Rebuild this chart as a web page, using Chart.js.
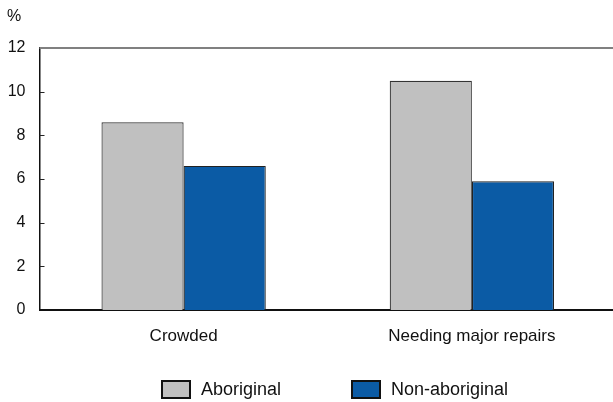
<!DOCTYPE html>
<html>
<head>
<meta charset="utf-8">
<script src="https://cdn.jsdelivr.net/npm/chart.js@4"></script>
<style>
  html, body { margin: 0; padding: 0; background: #fff; }
  #wrap { width: 613px; height: 402px; position: relative; overflow: hidden; }
</style>
</head>
<body>
<div id="wrap"><canvas id="c" width="617" height="402"></canvas></div>
<script>
// Housing conditions, percentage of households
const categories = ['Crowded', 'Needing major repairs'];
const aboriginal = [8.6, 10.5];
const nonAboriginal = [6.6, 5.9];
const seriesNames = ['Aboriginal', 'Non-aboriginal'];
const yTicks = [0, 2, 4, 6, 8, 10, 12];

const FONT = 'Liberation Sans, Arial, sans-serif';
const TEXT = '#111';

// Frame: inward tick marks on the y axis, grey top rule, unit label
const framePlugin = {
  id: 'frame',
  afterDraw(chart) {
    const { ctx, chartArea: a, scales: { y } } = chart;
    ctx.save();
    ctx.strokeStyle = '#222';
    ctx.lineWidth = 1;
    yTicks.forEach(v => {
      if (v === 0) return;
      const py = Math.round(y.getPixelForValue(v)) + 0.5;
      ctx.beginPath();
      ctx.moveTo(a.left, py);
      ctx.lineTo(a.left + 5, py);
      ctx.stroke();
    });
    ctx.strokeStyle = '#808080';
    ctx.lineWidth = 2;
    ctx.beginPath();
    ctx.moveTo(a.left, a.top);
    ctx.lineTo(a.right, a.top);
    ctx.stroke();
    ctx.fillStyle = TEXT;
    ctx.font = '16px ' + FONT;
    ctx.textAlign = 'left';
    ctx.textBaseline = 'middle';
    ctx.fillText('%', 7, 17);
    ctx.restore();
  }
};

// Legend row beneath the category labels
const legendPlugin = {
  id: 'customLegend',
  afterDraw(chart) {
    const { ctx } = chart;
    const items = [{ x: 162 }, { x: 352 }];
    ctx.save();
    ctx.font = '18px ' + FONT;
    ctx.textBaseline = 'middle';
    ctx.textAlign = 'left';
    chart.data.datasets.forEach((ds, i) => {
      const bx = items[i].x, by = 381;
      ctx.fillStyle = ds.backgroundColor;
      ctx.fillRect(bx, by, 28, 17);
      ctx.strokeStyle = '#111';
      ctx.lineWidth = 2;
      ctx.strokeRect(bx, by, 28, 17);
      ctx.fillStyle = TEXT;
      ctx.fillText(ds.label, bx + 39, by + 9);
    });
    ctx.restore();
  }
};

new Chart(document.getElementById('c'), {
  type: 'bar',
  data: {
    labels: categories,
    datasets: [
      { label: seriesNames[0], data: aboriginal, backgroundColor: '#c0c0c0', borderColor: '#333', borderWidth: 1.2 },
      { label: seriesNames[1], data: nonAboriginal, backgroundColor: '#0b5ba5', borderColor: '#222', borderWidth: 1.2 }
    ]
  },
  options: {
    responsive: false,
    animation: false,
    devicePixelRatio: 1,
    layout: { padding: { left: 0, right: 1, top: 48, bottom: 0 } },
    plugins: { legend: { display: false }, tooltip: { enabled: false } },
    datasets: { bar: { categoryPercentage: 0.57, barPercentage: 1.0 } },
    scales: {
      x: {
        grid: { display: false, drawTicks: false },
        border: { display: true, color: '#111', width: 2 },
        ticks: { color: TEXT, font: { family: FONT, size: 17 }, padding: 16 },
        afterFit(s) { s.height = 402 - 310; }
      },
      y: {
        min: 0, max: 12,
        grid: { display: false, drawTicks: false },
        border: { display: true, color: '#111', width: 1.5 },
        ticks: {
          stepSize: 2, color: TEXT, font: { family: FONT, size: 16 }, padding: 14,
          callback: v => yTicks.includes(v) ? String(v) : ''
        },
        afterFit(s) { s.width = 39.5; }
      }
    }
  },
  plugins: [framePlugin, legendPlugin]
});
</script>
</body>
</html>
